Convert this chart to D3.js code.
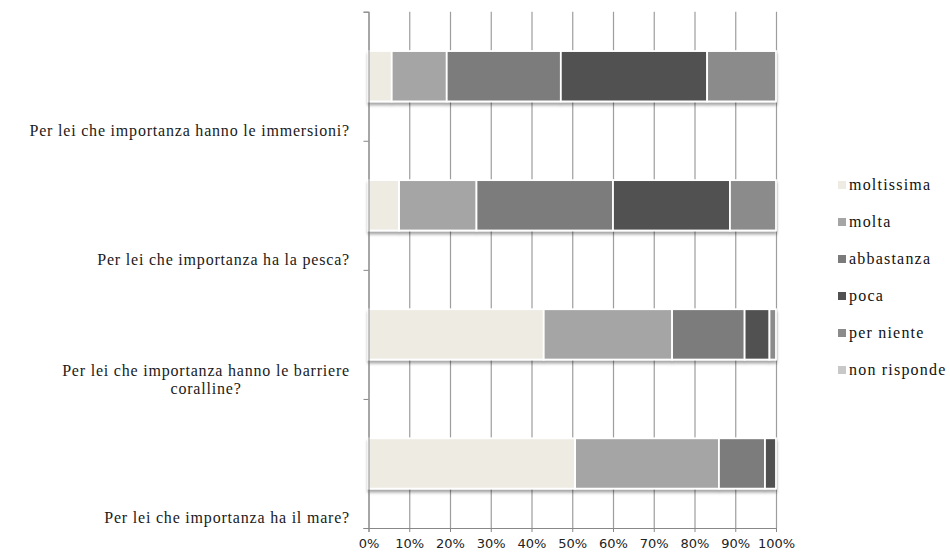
<!DOCTYPE html>
<html>
<head>
<meta charset="utf-8">
<script src="https://cdn.jsdelivr.net/npm/d3@7"></script>
<style>
  body { margin: 0; background: #fff; }
  svg { display: block; }
  .serif { font-family: "Liberation Serif", "DejaVu Serif", serif; }
  .sans { font-family: "DejaVu Sans", Verdana, sans-serif; }
</style>
</head>
<body>
<svg id="chart"></svg>
<script>
// categories from bottom to top, as in the original chart
const categories = [
  "Per lei che importanza ha il mare?",
  "Per lei che importanza hanno le barriere coralline?",
  "Per lei che importanza ha la pesca?",
  "Per lei che importanza hanno le immersioni?"
];
const seriesNames = ["moltissima", "molta", "abbastanza", "poca", "per niente", "non risponde"];
// percent values, same order as categories
const moltissima = [50.7, 43.0, 7.5, 5.7];
const molta = [35.3, 31.5, 19.0, 13.5];
const abbastanza = [11.3, 17.8, 33.5, 28.0];
const poca = [2.7, 6.1, 28.7, 35.9];
const perNiente = [0, 1.6, 11.3, 16.9];
const nonRisponde = [0, 0, 0, 0];
const tickValues = [0, 10, 20, 30, 40, 50, 60, 70, 80, 90, 100];

const seriesColors = ["#eeebe3", "#a5a5a5", "#7b7b7b", "#515151", "#8b8b8b", "#c8c8c8"];

const width = 950, height = 552;
const plot = { left: 368.5, right: 776, top: 11.7, bottom: 528 };

const svg = d3.select("#chart").attr("width", width).attr("height", height);

// build the table for d3.stack
const allValues = [moltissima, molta, abbastanza, poca, perNiente, nonRisponde];
const table = categories.map((c, i) => {
  const row = { category: c };
  seriesNames.forEach((s, j) => (row[s] = allValues[j][i]));
  return row;
});
const stacked = d3.stack().keys(seriesNames)(table);

const x = d3.scaleLinear().domain([0, 100]).range([plot.left, plot.right]);
// top category first on screen
const y = d3
  .scaleBand()
  .domain(categories.slice().reverse())
  .range([plot.top, plot.bottom])
  .paddingInner(0.61)
  .paddingOuter(0.305);
// boundaries between categories, for the tick marks
const yEdge = d3.scaleLinear().domain([0, categories.length]).range([plot.bottom, plot.top]);

// shadow under the bars
const defs = svg.append("defs");
const f = defs.append("filter").attr("id", "shadow").attr("x", "-5%").attr("y", "-20%").attr("width", "110%").attr("height", "150%");
f.append("feDropShadow")
  .attr("dx", 0).attr("dy", 3).attr("stdDeviation", 1.6)
  .attr("flood-color", "#000").attr("flood-opacity", 0.35);

// vertical gridlines
svg.append("g")
  .attr("class", "grid")
  .attr("transform", `translate(0, ${plot.bottom})`)
  .call(d3.axisBottom(x).tickValues(tickValues).tickSize(-(plot.bottom - plot.top)).tickFormat(""))
  .call((g) => g.select(".domain").remove())
  .call((g) => g.selectAll("line").attr("stroke", "#9d9d9d").attr("stroke-width", 1.2));

// bars
const rows = svg.append("g").selectAll("g")
  .data(categories)
  .enter()
  .append("g")
  .attr("filter", "url(#shadow)");

rows.selectAll("rect")
  .data((c, i) => stacked.map((s, j) => ({ key: s.key, c: c, v: s[i], j: j })).filter((d) => d.v[1] - d.v[0] > 0))
  .enter()
  .append("rect")
  .attr("x", (d) => x(d.v[0]))
  .attr("y", (d) => y(d.c))
  .attr("width", (d) => x(d.v[1]) - x(d.v[0]))
  .attr("height", y.bandwidth())
  .attr("fill", (d) => seriesColors[d.j])
  .attr("stroke", "#fff")
  .attr("stroke-width", 1.8);

// x axis
const xAxis = svg.append("g")
  .attr("class", "sans")
  .attr("transform", `translate(0, ${plot.bottom})`)
  .call(d3.axisBottom(x).tickValues(tickValues).tickSize(4).tickPadding(7).tickFormat((d) => d + "%"));
xAxis.attr("font-family", null).attr("font-size", null);
xAxis.select(".domain").attr("stroke", "#888");
xAxis.selectAll("line").attr("stroke", "#888");
xAxis.selectAll("text")
  .attr("fill", "#222")
  .style("font-size", "13px");

// y axis (ticks on category boundaries)
const yAxis = svg.append("g")
  .attr("transform", `translate(${plot.left}, 0)`)
  .call(d3.axisLeft(yEdge).tickValues(d3.range(categories.length + 1)).tickSize(5).tickFormat(""));
yAxis.select(".domain").attr("stroke", "#888");
yAxis.selectAll("line").attr("stroke", "#888");

// category labels, placed just above the lower boundary of each band
const labelX = 350;
const lineH = 18;
categories.forEach((c, i) => {
  const base = yEdge(i) - 5;
  const t = svg.append("text")
    .attr("class", "serif")
    .attr("text-anchor", "end")
    .attr("fill", "#1a1a1a")
    .style("font-size", "16px")
    .style("letter-spacing", "0.8px");
  // wrap on width
  const words = c.split(" ");
  const lines = [];
  let line = [];
  const probe = t.append("tspan");
  words.forEach((w) => {
    line.push(w);
    probe.text(line.join(" "));
    if (probe.node().getComputedTextLength() > 345 && line.length > 1) {
      line.pop();
      lines.push(line.join(" "));
      line = [w];
    }
  });
  lines.push(line.join(" "));
  probe.remove();
  const firstW = [];
  lines.forEach((l, k) => {
    const ts = t.append("tspan")
      .attr("x", labelX)
      .attr("y", base - (lines.length - 1 - k) * lineH)
      .text(l);
    firstW.push(ts.node().getComputedTextLength());
  });
  // later lines are centred under the first line
  t.selectAll("tspan").filter((d, k) => k > 0)
    .attr("text-anchor", "middle")
    .attr("x", labelX - firstW[0] / 2);
});

// legend
const legend = svg.append("g").attr("transform", "translate(838, 185)");
const items = legend.selectAll("g")
  .data(seriesNames)
  .enter()
  .append("g")
  .attr("transform", (d, i) => `translate(0, ${i * 37})`);
items.append("rect")
  .attr("x", 0).attr("y", -4)
  .attr("width", 8).attr("height", 8)
  .attr("fill", (d, i) => seriesColors[i]);
items.append("text")
  .attr("class", "serif")
  .attr("x", 11)
  .attr("y", 5)
  .attr("fill", "#111")
  .style("font-size", "16px")
  .style("letter-spacing", "1.2px")
  .text((d) => d);
</script>
</body>
</html>
